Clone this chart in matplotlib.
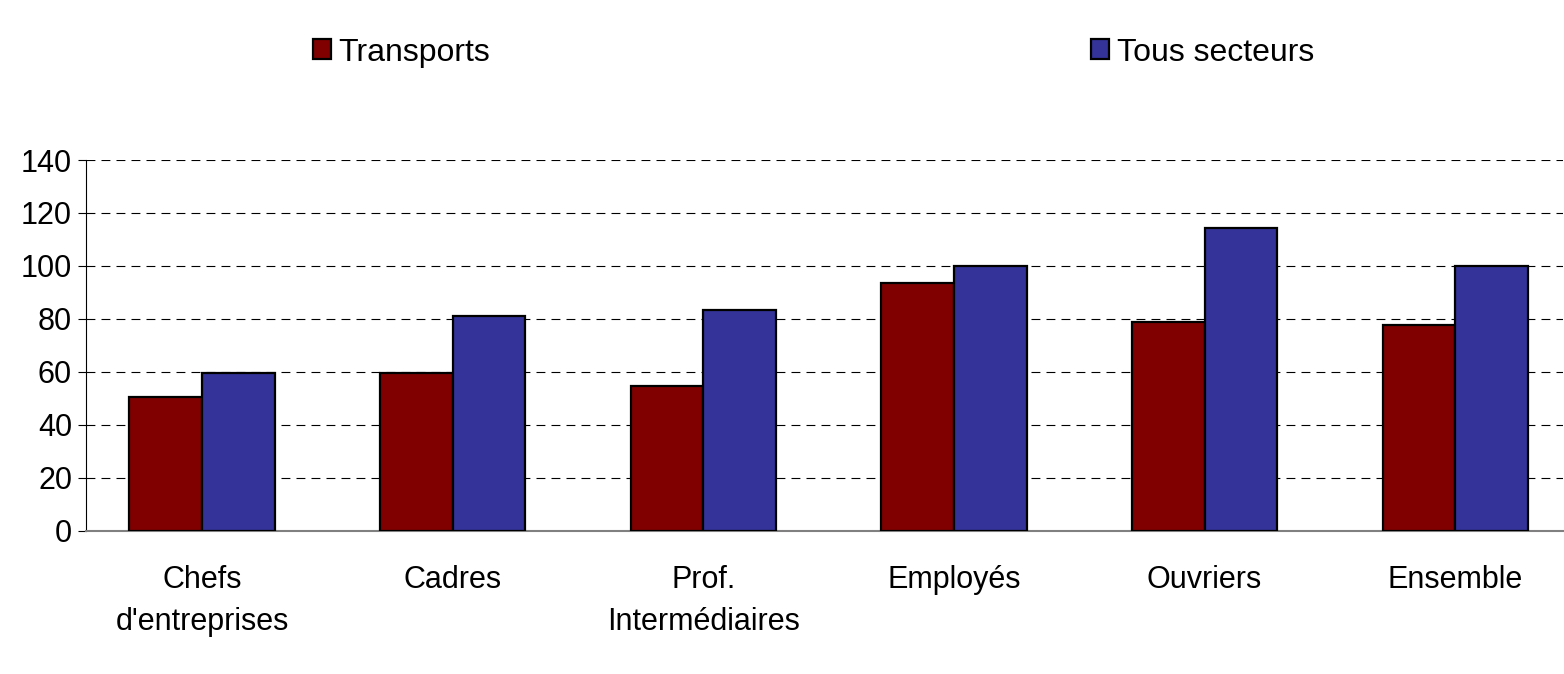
import numpy as np
import matplotlib
matplotlib.use('Agg')
import matplotlib.pyplot as plt

plt.rcParams['font.family'] = ['Liberation Sans', 'DejaVu Sans']

categories = ["Chefs\nd'entreprises", 'Cadres', 'Prof.\nIntermédiaires',
              'Employés', 'Ouvriers', 'Ensemble']
transports = [50.6, 59.7, 54.5, 93.4, 78.9, 77.7]
tous_secteurs = [59.7, 81.0, 83.3, 100.0, 114.5, 100.0]
series_names = ['Transports', 'Tous secteurs']
yticks = [0, 20, 40, 60, 80, 100, 120, 140]

fig = plt.figure(figsize=(15.64, 6.74), dpi=100)
ax = fig.add_axes([86 / 1564, 143.3 / 674, 1 - 87 / 1564, 370.7 / 674])

x = np.arange(len(categories))
w = 0.29
ax.bar(x - w / 2, transports, w, color='#800000', edgecolor='black', linewidth=1.6,
       label=series_names[0], zorder=3)
ax.bar(x + w / 2, tous_secteurs, w, color='#333399', edgecolor='black', linewidth=1.6,
       label=series_names[1], zorder=3)

ax.set_ylim(0, 140)
ax.set_xlim(-0.463, 5.43)
ax.set_yticks(yticks)
ax.set_xticks(x)
ax.set_xticklabels(categories, fontsize=22, linespacing=1.5)
ax.tick_params(axis='x', length=0, pad=25)
ax.tick_params(axis='y', labelsize=22, length=6, width=0.8, pad=4)

# grille pointillée
ax.yaxis.grid(True, color='black', linewidth=0.8, linestyle=(0, (8, 5.5)), zorder=1)

for s in ['top', 'right']:
    ax.spines[s].set_visible(False)
ax.spines['left'].set_linewidth(0.8)
ax.spines['bottom'].set_color('#808080')
ax.spines['bottom'].set_linewidth(1.5)

fig.legend(loc='center', bbox_to_anchor=(0.5201, 0.922), ncol=2, frameon=False,
           fontsize=23, columnspacing=18.8, handlelength=0.56, handleheight=0.6,
           handletextpad=0.25, borderpad=0)

fig.savefig('out.png', dpi=100)
